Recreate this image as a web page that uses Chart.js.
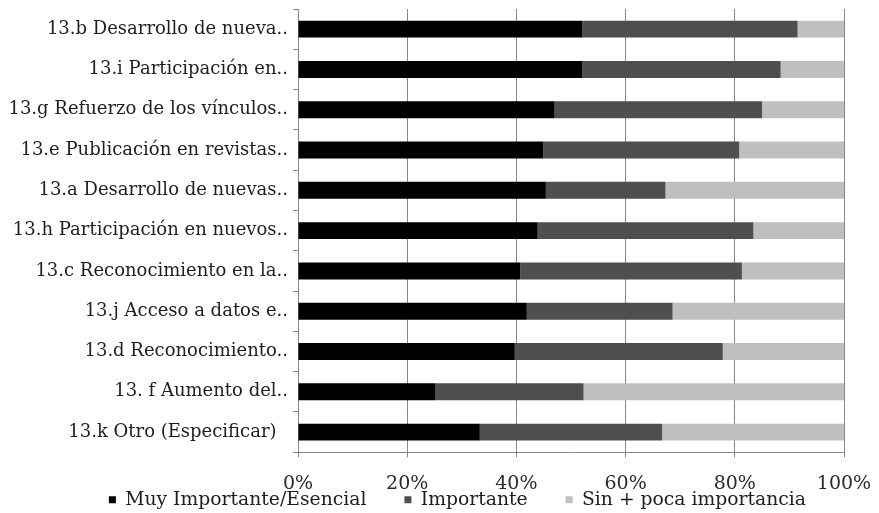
<!DOCTYPE html>
<html>
<head>
<meta charset="utf-8">
<script src="https://cdn.jsdelivr.net/npm/chart.js@4"></script>
<style>
  html, body { margin: 0; padding: 0; background: #fff; }
  #wrap { width: 879px; height: 513px; }
</style>
</head>
<body>
<div id="wrap"><canvas id="chart" width="879" height="513"></canvas></div>
<script>
const categories = [
  '13.b Desarrollo de nueva..',
  '13.i Participación en..',
  '13.g Refuerzo de los vínculos..',
  '13.e Publicación en revistas..',
  '13.a Desarrollo de nuevas..',
  '13.h Participación en nuevos..',
  '13.c Reconocimiento en la..',
  '13.j Acceso a datos e..',
  '13.d Reconocimiento..',
  '13. f Aumento del..',
  '13.k Otro (Especificar)  '
];
const seriesNames = ['Muy Importante/Esencial', 'Importante', 'Sin + poca importancia'];
const muyImportante = [52.1, 52.1, 47.0, 44.9, 45.4, 43.9, 40.7, 41.9, 39.7, 25.2, 33.3];
const importante    = [39.4, 36.3, 38.0, 35.9, 21.9, 39.5, 40.6, 26.7, 38.1, 27.1, 33.4];
const sinPoca       = [8.5, 11.6, 15.0, 19.2, 32.7, 16.6, 18.7, 31.4, 22.2, 47.7, 33.3];
const colors = ['#000000', '#4f4f4f', '#bfbfbf'];

const serif = '"DejaVu Serif", "Liberation Serif", serif';

new Chart(document.getElementById('chart').getContext('2d'), {
  type: 'bar',
  data: {
    labels: categories,
    datasets: [muyImportante, importante, sinPoca].map((d, i) => ({
      label: seriesNames[i],
      data: d,
      backgroundColor: colors[i],
      borderWidth: 0,
      barPercentage: 0.84,
      categoryPercentage: 0.5
    }))
  },
  options: {
    indexAxis: 'y',
    responsive: false,
    animation: false,
    layout: { padding: { top: 9, right: 35, bottom: -6, left: 0 } },
    scales: {
      x: {
        stacked: true,
        min: 0,
        max: 100,
        ticks: {
          stepSize: 20,
          callback: v => v + '%',
          color: '#2a2a2a',
          padding: 15,
          font: { family: serif, size: 19 }
        },
        grid: { color: '#878787', lineWidth: 1, tickLength: 5 },
        border: { color: '#878787' },
        // the % labels sit over the legend in the original, so take no room
        // and don't clip them to the axis box
        afterFit: scale => {
          scale.height = 0;
          scale.paddingLeft = 0;
          scale.paddingRight = 0;
          scale._computeLabelArea = () => undefined;
        }
      },
      y: {
        stacked: true,
        ticks: {
          color: '#1e1e1e',
          padding: 5,
          font: { family: serif, size: 18 }
        },
        grid: { offset: true, drawOnChartArea: false, color: '#878787', tickLength: 5 },
        border: { color: '#878787' },
        afterFit: scale => {
          scale.width = 298;
          scale.paddingTop = 0;
          scale.paddingBottom = 0;
        }
      }
    },
    plugins: {
      legend: {
        position: 'bottom',
        align: 'end',
        labels: {
          color: '#1e1e1e',
          boxWidth: 7,
          boxHeight: 7,
          padding: 38,
          font: { family: serif, size: 18.75 }
        }
      },
      tooltip: { enabled: false }
    }
  }
});
</script>
</body>
</html>
